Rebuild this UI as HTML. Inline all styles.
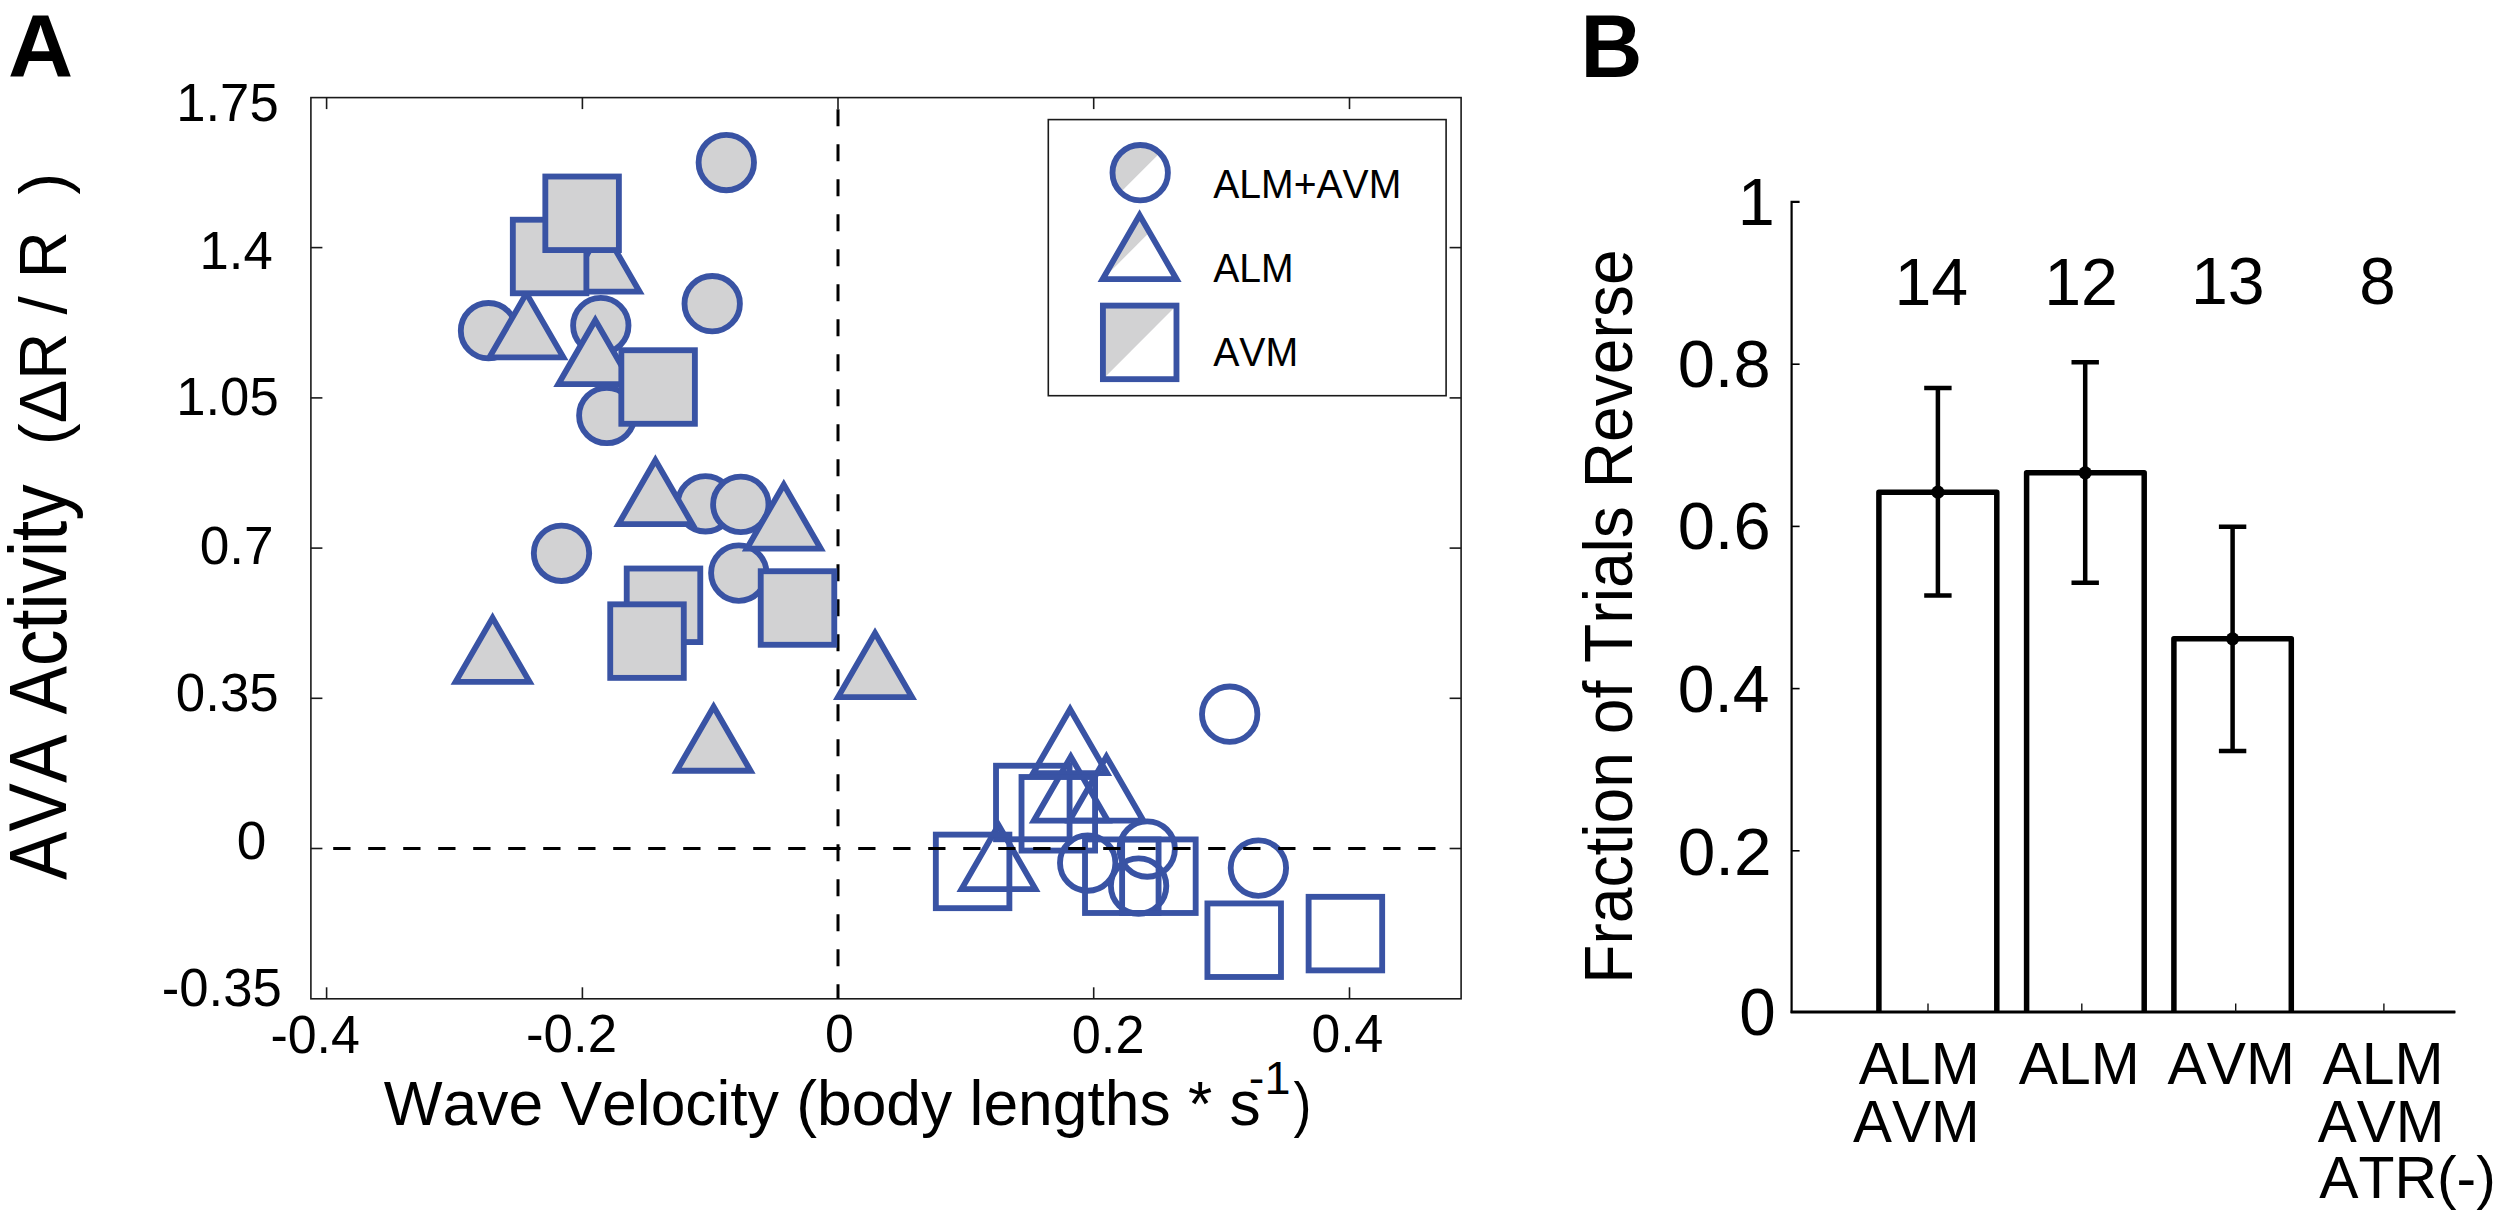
<!DOCTYPE html>
<html><head><meta charset="utf-8"><title>Figure</title>
<style>
html,body{margin:0;padding:0;background:#fff;}
svg{display:block;}
text{font-family:"Liberation Sans", sans-serif;fill:#000;font-kerning:none;white-space:pre;}
</style></head>
<body>
<svg width="2500" height="1218" viewBox="0 0 2500 1218">
<rect width="2500" height="1218" fill="#fff"/>
<rect x="310.9" y="97.6" width="1150.1999999999998" height="901.1999999999999" fill="none" stroke="#1a1a1a" stroke-width="1.6"/>
<line x1="326.6" y1="97.6" x2="326.6" y2="109.1" stroke="#1a1a1a" stroke-width="1.6" />
<line x1="326.6" y1="998.8" x2="326.6" y2="987.3" stroke="#1a1a1a" stroke-width="1.6" />
<line x1="582.4" y1="97.6" x2="582.4" y2="109.1" stroke="#1a1a1a" stroke-width="1.6" />
<line x1="582.4" y1="998.8" x2="582.4" y2="987.3" stroke="#1a1a1a" stroke-width="1.6" />
<line x1="838.0" y1="97.6" x2="838.0" y2="109.1" stroke="#1a1a1a" stroke-width="1.6" />
<line x1="838.0" y1="998.8" x2="838.0" y2="987.3" stroke="#1a1a1a" stroke-width="1.6" />
<line x1="1093.7" y1="97.6" x2="1093.7" y2="109.1" stroke="#1a1a1a" stroke-width="1.6" />
<line x1="1093.7" y1="998.8" x2="1093.7" y2="987.3" stroke="#1a1a1a" stroke-width="1.6" />
<line x1="1349.5" y1="97.6" x2="1349.5" y2="109.1" stroke="#1a1a1a" stroke-width="1.6" />
<line x1="1349.5" y1="998.8" x2="1349.5" y2="987.3" stroke="#1a1a1a" stroke-width="1.6" />
<line x1="310.9" y1="247.6" x2="322.4" y2="247.6" stroke="#1a1a1a" stroke-width="1.6" />
<line x1="1461.1" y1="247.6" x2="1449.6" y2="247.6" stroke="#1a1a1a" stroke-width="1.6" />
<line x1="310.9" y1="397.9" x2="322.4" y2="397.9" stroke="#1a1a1a" stroke-width="1.6" />
<line x1="1461.1" y1="397.9" x2="1449.6" y2="397.9" stroke="#1a1a1a" stroke-width="1.6" />
<line x1="310.9" y1="548.1" x2="322.4" y2="548.1" stroke="#1a1a1a" stroke-width="1.6" />
<line x1="1461.1" y1="548.1" x2="1449.6" y2="548.1" stroke="#1a1a1a" stroke-width="1.6" />
<line x1="310.9" y1="698.3" x2="322.4" y2="698.3" stroke="#1a1a1a" stroke-width="1.6" />
<line x1="1461.1" y1="698.3" x2="1449.6" y2="698.3" stroke="#1a1a1a" stroke-width="1.6" />
<line x1="310.9" y1="848.5" x2="322.4" y2="848.5" stroke="#1a1a1a" stroke-width="1.6" />
<line x1="1461.1" y1="848.5" x2="1449.6" y2="848.5" stroke="#1a1a1a" stroke-width="1.6" />
<path d="M838.0 109.3V998.8" stroke="#000" stroke-width="3.0" stroke-dasharray="17 18" fill="none"/>
<circle cx="726.3" cy="162.5" r="27.7" fill="#d2d2d3" stroke="#3953a4" stroke-width="5.85"/>
<circle cx="488.5" cy="330.7" r="27.7" fill="#d2d2d3" stroke="#3953a4" stroke-width="5.85"/>
<circle cx="600.8" cy="325.6" r="27.7" fill="#d2d2d3" stroke="#3953a4" stroke-width="5.85"/>
<circle cx="712.2" cy="303.7" r="27.7" fill="#d2d2d3" stroke="#3953a4" stroke-width="5.85"/>
<circle cx="606.8" cy="415.5" r="27.7" fill="#d2d2d3" stroke="#3953a4" stroke-width="5.85"/>
<circle cx="705.5" cy="503.8" r="27.7" fill="#d2d2d3" stroke="#3953a4" stroke-width="5.85"/>
<circle cx="740.8" cy="504.4" r="27.7" fill="#d2d2d3" stroke="#3953a4" stroke-width="5.85"/>
<circle cx="561.5" cy="553.3" r="27.7" fill="#d2d2d3" stroke="#3953a4" stroke-width="5.85"/>
<circle cx="738.8" cy="573.1" r="27.7" fill="#d2d2d3" stroke="#3953a4" stroke-width="5.85"/>
<circle cx="1229.7" cy="714.2" r="27.7" fill="none" stroke="#3953a4" stroke-width="5.85"/>
<circle cx="1087.7" cy="863.0" r="27.7" fill="none" stroke="#3953a4" stroke-width="5.85"/>
<circle cx="1147.2" cy="849.0" r="27.7" fill="none" stroke="#3953a4" stroke-width="5.85"/>
<circle cx="1138.6" cy="886.0" r="27.7" fill="none" stroke="#3953a4" stroke-width="5.85"/>
<circle cx="1258.4" cy="868.1" r="27.7" fill="none" stroke="#3953a4" stroke-width="5.85"/>
<path d="M602.60 227.68L639.55 291.68H565.65Z" fill="#d2d2d3" stroke="#3953a4" stroke-width="5.85" stroke-miterlimit="10"/>
<path d="M526.40 293.38L563.35 357.38H489.45Z" fill="#d2d2d3" stroke="#3953a4" stroke-width="5.85" stroke-miterlimit="10"/>
<path d="M595.30 320.18L632.25 384.18H558.35Z" fill="#d2d2d3" stroke="#3953a4" stroke-width="5.85" stroke-miterlimit="10"/>
<path d="M655.40 460.18L692.35 524.18H618.45Z" fill="#d2d2d3" stroke="#3953a4" stroke-width="5.85" stroke-miterlimit="10"/>
<path d="M783.80 484.68L820.75 548.68H746.85Z" fill="#d2d2d3" stroke="#3953a4" stroke-width="5.85" stroke-miterlimit="10"/>
<path d="M492.60 617.88L529.55 681.88H455.65Z" fill="#d2d2d3" stroke="#3953a4" stroke-width="5.85" stroke-miterlimit="10"/>
<path d="M875.00 633.08L911.95 697.08H838.05Z" fill="#d2d2d3" stroke="#3953a4" stroke-width="5.85" stroke-miterlimit="10"/>
<path d="M713.60 706.78L750.55 770.78H676.65Z" fill="#d2d2d3" stroke="#3953a4" stroke-width="5.85" stroke-miterlimit="10"/>
<path d="M1070.10 709.18L1107.05 773.18H1033.15Z" fill="none" stroke="#3953a4" stroke-width="5.85" stroke-miterlimit="10"/>
<path d="M1070.80 756.68L1107.75 820.68H1033.85Z" fill="none" stroke="#3953a4" stroke-width="5.85" stroke-miterlimit="10"/>
<path d="M1106.40 756.68L1143.35 820.68H1069.45Z" fill="none" stroke="#3953a4" stroke-width="5.85" stroke-miterlimit="10"/>
<path d="M998.50 825.08L1035.45 889.08H961.55Z" fill="none" stroke="#3953a4" stroke-width="5.85" stroke-miterlimit="10"/>
<rect x="512.83" y="219.72" width="73.55" height="73.55" fill="#d2d2d3" stroke="#3953a4" stroke-width="5.85"/>
<rect x="545.33" y="176.53" width="73.55" height="73.55" fill="#d2d2d3" stroke="#3953a4" stroke-width="5.85"/>
<rect x="621.33" y="350.23" width="73.55" height="73.55" fill="#d2d2d3" stroke="#3953a4" stroke-width="5.85"/>
<rect x="626.73" y="568.52" width="73.55" height="73.55" fill="#d2d2d3" stroke="#3953a4" stroke-width="5.85"/>
<rect x="760.73" y="571.23" width="73.55" height="73.55" fill="#d2d2d3" stroke="#3953a4" stroke-width="5.85"/>
<rect x="610.23" y="604.33" width="73.55" height="73.55" fill="#d2d2d3" stroke="#3953a4" stroke-width="5.85"/>
<rect x="996.02" y="765.73" width="73.55" height="73.55" fill="none" stroke="#3953a4" stroke-width="5.85"/>
<rect x="1021.52" y="777.02" width="73.55" height="73.55" fill="none" stroke="#3953a4" stroke-width="5.85"/>
<rect x="935.83" y="834.62" width="73.55" height="73.55" fill="none" stroke="#3953a4" stroke-width="5.85"/>
<rect x="1085.02" y="839.43" width="73.55" height="73.55" fill="none" stroke="#3953a4" stroke-width="5.85"/>
<rect x="1122.12" y="839.43" width="73.55" height="73.55" fill="none" stroke="#3953a4" stroke-width="5.85"/>
<rect x="1207.42" y="903.43" width="73.55" height="73.55" fill="none" stroke="#3953a4" stroke-width="5.85"/>
<rect x="1308.62" y="896.83" width="73.55" height="73.55" fill="none" stroke="#3953a4" stroke-width="5.85"/>
<path d="M333.2 848.5H1449.6" stroke="#000" stroke-width="2.8" stroke-dasharray="17.3 17.7" fill="none"/>
<rect x="1048.3" y="119.6" width="397.8" height="276.1" fill="#fff" stroke="#1a1a1a" stroke-width="1.6"/>
<circle cx="1140.2" cy="172.7" r="27.7" fill="#fff"/>
<path d="M1120.61 192.29A27.7 27.7 0 0 1 1159.79 153.11Z" fill="#d2d2d3"/>
<circle cx="1140.2" cy="172.7" r="27.7" fill="none" stroke="#3953a4" stroke-width="5.85"/>
<path d="M1139.60 215.18L1176.55 279.18H1102.65Z" fill="#fff"/>
<path d="M1102.65 279.18L1139.60 215.18L1149.50 232.32Z" fill="#d2d2d3"/>
<path d="M1139.60 215.18L1176.55 279.18H1102.65Z" fill="none" stroke="#3953a4" stroke-width="5.85" stroke-miterlimit="10"/>
<rect x="1102.92" y="305.62" width="73.55" height="73.55" fill="#fff"/>
<path d="M1102.92 379.17V305.62H1176.48Z" fill="#d2d2d3"/>
<rect x="1102.92" y="305.62" width="73.55" height="73.55" fill="none" stroke="#3953a4" stroke-width="5.85"/>
<path d="M1799.6 201.8H1791.6V1012.0H2455.3" fill="none" stroke="#000" stroke-width="2.2"/>
<path d="M1790.6 1012.0H2455.3" fill="none" stroke="#000" stroke-width="2.8"/>
<line x1="1791.6" y1="364.2" x2="1799.6" y2="364.2" stroke="#000" stroke-width="1.6" />
<line x1="1791.6" y1="526.4" x2="1799.6" y2="526.4" stroke="#000" stroke-width="1.6" />
<line x1="1791.6" y1="688.6" x2="1799.6" y2="688.6" stroke="#000" stroke-width="1.6" />
<line x1="1791.6" y1="850.8" x2="1799.6" y2="850.8" stroke="#000" stroke-width="1.6" />
<line x1="1928" y1="1012.0" x2="1928" y2="1003.5" stroke="#111" stroke-width="1.4" />
<line x1="2081.8" y1="1012.0" x2="2081.8" y2="1003.5" stroke="#111" stroke-width="1.4" />
<line x1="2235.7" y1="1012.0" x2="2235.7" y2="1003.5" stroke="#111" stroke-width="1.4" />
<line x1="2383.9" y1="1012.0" x2="2383.9" y2="1003.5" stroke="#111" stroke-width="1.4" />
<path d="M1878.9 1012.0V492.2H1996.8V1012.0" fill="none" stroke="#000" stroke-width="5.5" stroke-linejoin="round"/>
<path d="M2026.6 1012.0V472.8H2144.2V1012.0" fill="none" stroke="#000" stroke-width="5.5" stroke-linejoin="round"/>
<path d="M2173.9 1012.0V638.8H2291.3V1012.0" fill="none" stroke="#000" stroke-width="5.5" stroke-linejoin="round"/>
<path d="M1937.9 387.9V595.4M1924.2 387.9H1951.6000000000001M1924.2 595.4H1951.6000000000001" fill="none" stroke="#000" stroke-width="4.5"/>
<circle cx="1937.9" cy="492.2" r="6.6" fill="#000"/>
<path d="M2085.2 362.3V582.8M2071.5 362.3H2098.8999999999996M2071.5 582.8H2098.8999999999996" fill="none" stroke="#000" stroke-width="4.5"/>
<circle cx="2085.2" cy="472.8" r="6.6" fill="#000"/>
<path d="M2232.6 526.8V750.9M2218.9 526.8H2246.2999999999997M2218.9 750.9H2246.2999999999997" fill="none" stroke="#000" stroke-width="4.5"/>
<circle cx="2232.6" cy="638.8" r="6.6" fill="#000"/>
<text x="7.99" y="76.90" font-size="89.6" textLength="65.13" lengthAdjust="spacingAndGlyphs" font-weight="bold" xml:space="preserve">A</text>
<text x="176.21" y="121.20" font-size="54" textLength="102.47" lengthAdjust="spacingAndGlyphs" xml:space="preserve">1.75</text>
<text x="199.52" y="269.20" font-size="54" textLength="73.19" lengthAdjust="spacingAndGlyphs" xml:space="preserve">1.4</text>
<text x="176.21" y="414.80" font-size="54" textLength="102.47" lengthAdjust="spacingAndGlyphs" xml:space="preserve">1.05</text>
<text x="199.63" y="564.00" font-size="54" textLength="74.08" lengthAdjust="spacingAndGlyphs" xml:space="preserve">0.7</text>
<text x="175.84" y="711.00" font-size="54" textLength="102.85" lengthAdjust="spacingAndGlyphs" xml:space="preserve">0.35</text>
<text x="236.63" y="858.80" font-size="54" textLength="29.57" lengthAdjust="spacingAndGlyphs" xml:space="preserve">0</text>
<text x="161.75" y="1006.30" font-size="54" textLength="120.03" lengthAdjust="spacingAndGlyphs" xml:space="preserve">-0.35</text>
<text x="270.38" y="1052.50" font-size="54" textLength="89.52" lengthAdjust="spacingAndGlyphs" xml:space="preserve">-0.4</text>
<text x="526.05" y="1052.10" font-size="54" textLength="90.94" lengthAdjust="spacingAndGlyphs" xml:space="preserve">-0.2</text>
<text x="825.08" y="1052.10" font-size="54" textLength="28.88" lengthAdjust="spacingAndGlyphs" xml:space="preserve">0</text>
<text x="1071.81" y="1052.50" font-size="54" textLength="72.65" lengthAdjust="spacingAndGlyphs" xml:space="preserve">0.2</text>
<text x="1311.38" y="1052.10" font-size="54" textLength="71.90" lengthAdjust="spacingAndGlyphs" xml:space="preserve">0.4</text>
<text x="383.75" y="1124.80" font-size="62.6" textLength="877.04" lengthAdjust="spacingAndGlyphs" xml:space="preserve">Wave Velocity (body lengths * s</text>
<text x="1248.84" y="1094.30" font-size="45.5" textLength="41.67" lengthAdjust="spacingAndGlyphs" xml:space="preserve">-1</text>
<text x="1293.60" y="1124.80" font-size="62" textLength="17.97" lengthAdjust="spacingAndGlyphs" xml:space="preserve">)</text>
<text x="0.00" y="0.00" font-size="81" textLength="395.55" lengthAdjust="spacingAndGlyphs" transform="translate(65.6,880) rotate(-90)" xml:space="preserve">AVA Activity</text>
<text x="-3.95" y="0.00" font-size="66" textLength="271.89" lengthAdjust="spacingAndGlyphs" transform="translate(66.4,441) rotate(-90)" xml:space="preserve">(ΔR / R  )</text>
<text x="1213.20" y="197.50" font-size="40" textLength="188.07" lengthAdjust="spacingAndGlyphs" xml:space="preserve">ALM+AVM</text>
<text x="1213.20" y="282.00" font-size="40" textLength="80.37" lengthAdjust="spacingAndGlyphs" xml:space="preserve">ALM</text>
<text x="1213.20" y="366.40" font-size="40" textLength="85.08" lengthAdjust="spacingAndGlyphs" xml:space="preserve">AVM</text>
<text x="1580.56" y="77.20" font-size="89.6" textLength="61.88" lengthAdjust="spacingAndGlyphs" font-weight="bold" xml:space="preserve">B</text>
<text x="1737.72" y="225.40" font-size="66.6" textLength="37.04" lengthAdjust="spacingAndGlyphs" xml:space="preserve">1</text>
<text x="1677.69" y="386.80" font-size="66.6" textLength="92.95" lengthAdjust="spacingAndGlyphs" xml:space="preserve">0.8</text>
<text x="1677.69" y="549.20" font-size="66.6" textLength="92.95" lengthAdjust="spacingAndGlyphs" xml:space="preserve">0.6</text>
<text x="1677.71" y="712.20" font-size="66.6" textLength="91.91" lengthAdjust="spacingAndGlyphs" xml:space="preserve">0.4</text>
<text x="1677.67" y="874.50" font-size="66.6" textLength="94.01" lengthAdjust="spacingAndGlyphs" xml:space="preserve">0.2</text>
<text x="1739.28" y="1034.50" font-size="66.6" textLength="36.48" lengthAdjust="spacingAndGlyphs" xml:space="preserve">0</text>
<text x="1894.43" y="304.60" font-size="66.6" textLength="73.70" lengthAdjust="spacingAndGlyphs" xml:space="preserve">14</text>
<text x="2044.22" y="304.60" font-size="66.6" textLength="73.70" lengthAdjust="spacingAndGlyphs" xml:space="preserve">12</text>
<text x="2190.92" y="304.20" font-size="66.6" textLength="73.70" lengthAdjust="spacingAndGlyphs" xml:space="preserve">13</text>
<text x="2359.33" y="304.20" font-size="66.6" textLength="36.48" lengthAdjust="spacingAndGlyphs" xml:space="preserve">8</text>
<text x="1858.75" y="1083.60" font-size="59.7" textLength="120.90" lengthAdjust="spacingAndGlyphs" xml:space="preserve">ALM</text>
<text x="1853.00" y="1142.20" font-size="59.7" textLength="126.62" lengthAdjust="spacingAndGlyphs" xml:space="preserve">AVM</text>
<text x="2018.75" y="1083.60" font-size="59.7" textLength="120.90" lengthAdjust="spacingAndGlyphs" xml:space="preserve">ALM</text>
<text x="2167.60" y="1083.60" font-size="59.7" textLength="127.24" lengthAdjust="spacingAndGlyphs" xml:space="preserve">AVM</text>
<text x="2322.50" y="1083.50" font-size="59.7" textLength="121.16" lengthAdjust="spacingAndGlyphs" xml:space="preserve">ALM</text>
<text x="2317.80" y="1141.80" font-size="59.7" textLength="126.83" lengthAdjust="spacingAndGlyphs" xml:space="preserve">AVM</text>
<text x="2319.30" y="1198.30" font-size="59.7" textLength="176.54" lengthAdjust="spacingAndGlyphs" xml:space="preserve">ATR(-)</text>
<text x="-4.66" y="0.00" font-size="68.8" textLength="734.37" lengthAdjust="spacingAndGlyphs" transform="translate(1632.2,979.1) rotate(-90)" xml:space="preserve">Fraction of Trials Reverse</text>
</svg>
</body></html>
